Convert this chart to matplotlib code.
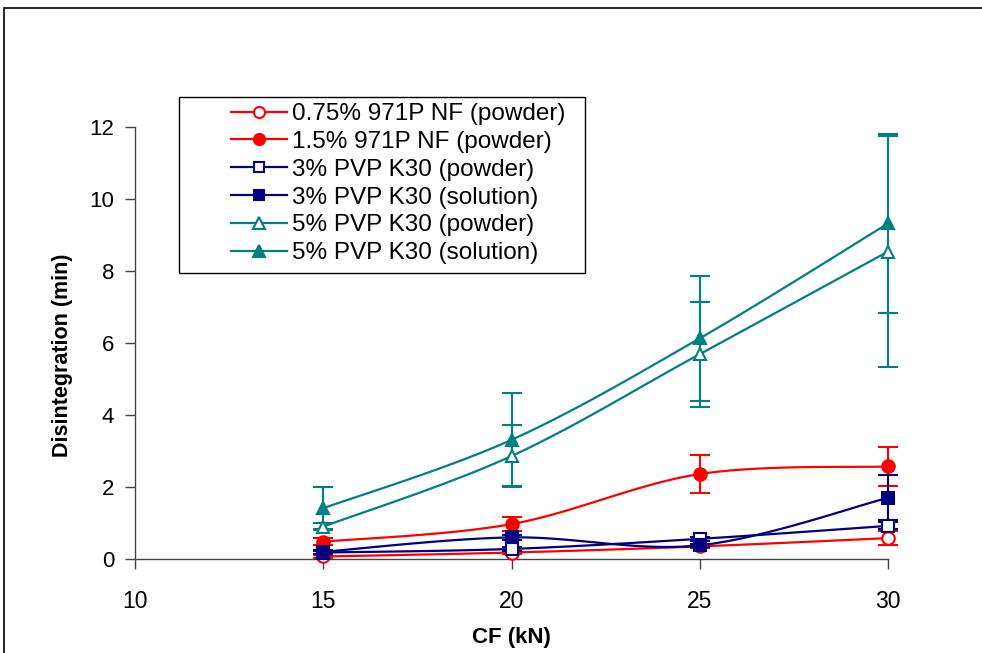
import numpy as np
import matplotlib
matplotlib.use("Agg")
import matplotlib.pyplot as plt
from matplotlib.patches import Rectangle

plt.rcParams['font.family'] = ['Liberation Sans', 'DejaVu Sans']

# compression force (kN)
cf = [15, 20, 25, 30]

labels = ["0.75% 971P NF (powder)", "1.5% 971P NF (powder)",
          "3% PVP K30 (powder)", "3% PVP K30 (solution)",
          "5% PVP K30 (powder)", "5% PVP K30 (solution)"]

# disintegration time (min), mean and sd
p971_075 = [0.07, 0.18, 0.35, 0.58]
p971_075_sd = [0.05, 0.05, 0.05, 0.2]
p971_15 = [0.48, 0.97, 2.36, 2.57]
p971_15_sd = [0.1, 0.2, 0.53, 0.55]
pvp3_pow = [0.18, 0.28, 0.56, 0.92]
pvp3_pow_sd = [0.05, 0.05, 0.05, 0.1]
pvp3_sol = [0.2, 0.6, 0.38, 1.70]
pvp3_sol_sd = [0.05, 0.08, 0.05, 0.63]
pvp5_pow = [0.9, 2.86, 5.69, 8.54]
pvp5_pow_sd = [0.1, 0.86, 1.46, 3.2]
pvp5_sol = [1.41, 3.31, 6.13, 9.32]
pvp5_sol_sd = [0.58, 1.29, 1.74, 2.48]

means = [p971_075, p971_15, pvp3_pow, pvp3_sol, pvp5_pow, pvp5_sol]
sds = [p971_075_sd, p971_15_sd, pvp3_pow_sd, pvp3_sol_sd, pvp5_pow_sd, pvp5_sol_sd]
colors = ["#FF0000", "#FF0000", "#000080", "#000080", "#008080", "#008080"]
markers = ["o", "o", "s", "s", "^", "^"]
filled = [False, True, False, True, False, True]


def smooth(x, y, n=40):
    # bezier smoothing like spreadsheet "smoothed line"
    x = np.asarray(x, float)
    y = np.asarray(y, float)
    pts = np.column_stack([x, y])
    ext = np.vstack([pts[0], pts, pts[-1]])
    t = np.linspace(0, 1, n)[:, None]
    out = []
    for i in range(len(pts) - 1):
        p0, p1, p2, p3 = ext[i], ext[i + 1], ext[i + 2], ext[i + 3]
        c1 = p1 + (p2 - p0) / 6
        c2 = p2 - (p3 - p1) / 6
        seg = ((1 - t) ** 3) * p1 + 3 * ((1 - t) ** 2) * t * c1 + 3 * (1 - t) * t ** 2 * c2 + t ** 3 * p2
        out.append(seg)
    out = np.vstack(out)
    return out[:, 0], out[:, 1]


W, H = 982, 653
fig = plt.figure(figsize=(W / 100, H / 100), dpi=100)
ax = fig.add_axes([135 / W, 1 - 559 / H, (888 - 135) / W, (559 - 127) / H])

for m, s, c, mk, f, lab in zip(means, sds, colors, markers, filled, labels):
    ms = 9 if mk != "s" else 8.5
    sx, sy = smooth(cf, m)
    ax.plot(sx, sy, color=c, lw=1.6, zorder=3)
    ax.errorbar(cf, m, yerr=s, fmt="none", ecolor=c, elinewidth=1.5,
                capsize=7.5, capthick=1.5, zorder=3, clip_on=False)
    ax.plot(cf, m, linestyle="none", marker=mk, markersize=ms,
            markerfacecolor=c if f else "white", markeredgecolor=c,
            markeredgewidth=1.5, zorder=4, clip_on=False)
    # legend proxy
    ax.plot([], [], color=c, lw=1.6, marker=mk, markersize=ms - 1,
            markerfacecolor=c if f else "white", markeredgecolor=c,
            markeredgewidth=1.5, label=lab)

ax.set_xlim(10, 30)
ax.set_ylim(0, 12)
ax.set_xticks([10, 15, 20, 25, 30])
ax.set_yticks([0, 2, 4, 6, 8, 10, 12])
for side in ["top", "right"]:
    ax.spines[side].set_visible(False)
for side in ["left", "bottom"]:
    ax.spines[side].set_color("#444444")
    ax.spines[side].set_linewidth(1.0)
ax.tick_params(axis="x", direction="out", length=7, width=1, color="#444444",
               labelsize=16.5, pad=15)
ax.tick_params(axis="y", direction="out", length=7, width=1, color="#444444",
               labelsize=16, pad=8)

ax.set_xlabel("CF (kN)", fontsize=16, fontweight="bold", va="center")
ax.xaxis.set_label_coords((511 - 135) / (888 - 135), -(638 - 559) / (559 - 127))
ax.set_ylabel("Disintegration (min)", fontsize=15.5, fontweight="bold")
ax.yaxis.set_label_coords(-(135 - 73) / (888 - 135), (559 - 355) / (559 - 127))

leg = fig.legend(loc="upper left", bbox_to_anchor=(231 / W, 1 - 103 / H),
                 frameon=False, fontsize=17.5, handlelength=2.3, handletextpad=0.2,
                 labelspacing=0.24, borderpad=0, borderaxespad=0)

# legend box and outer chart border
fig.patches.append(Rectangle((179 / W, 1 - 273 / H), 406 / W, 176 / H,
                             transform=fig.transFigure, fill=False,
                             edgecolor="black", lw=1.0))
fig.patches.append(Rectangle((4 / W, -0.1), 1.2, (H - 8) / H + 0.1,
                             transform=fig.transFigure, fill=False,
                             edgecolor="black", lw=1.2, clip_on=False))

fig.savefig("out.png", dpi=100)
